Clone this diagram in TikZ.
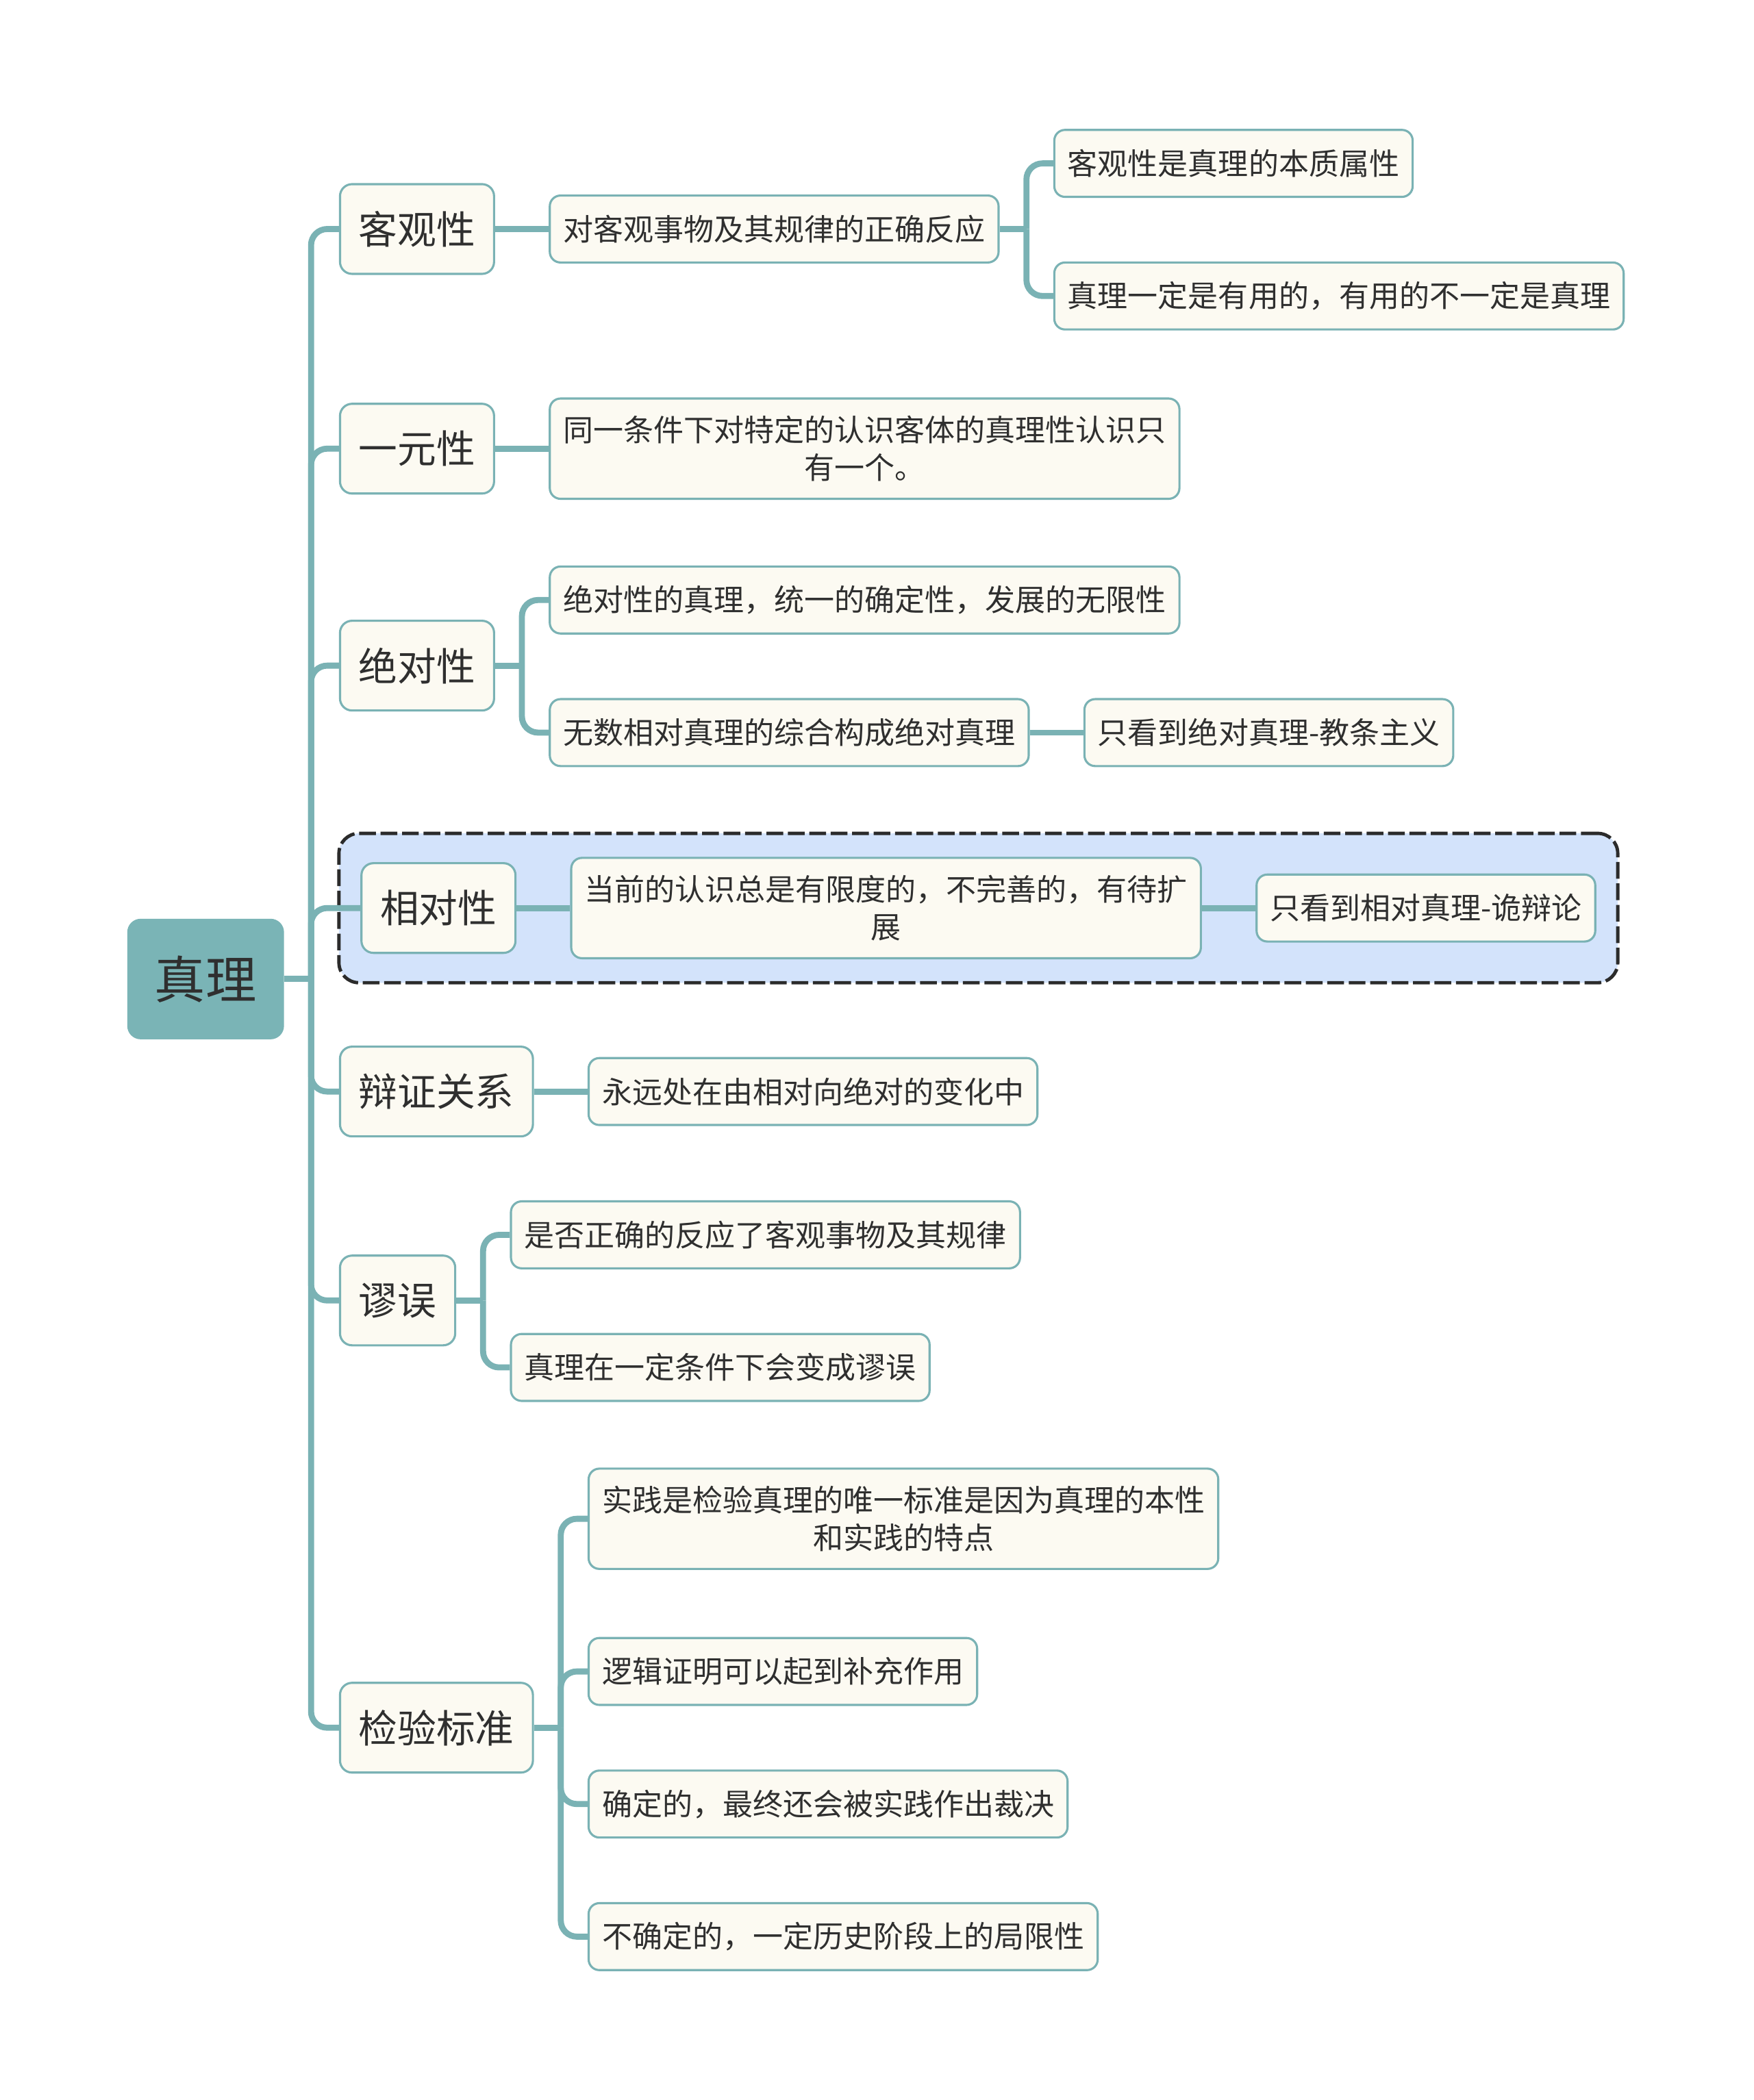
\documentclass[tikz,border=0pt]{standalone}
\usepackage{fontspec}
\setmainfont{Noto Sans CJK SC}
\usetikzlibrary{positioning,fit,backgrounds}

\definecolor{branch}{HTML}{7AB2B4}
\definecolor{boxfill}{HTML}{FCFAF2}
\definecolor{rootfill}{HTML}{7AB4B6}
\definecolor{framefill}{HTML}{D3E3FB}
\definecolor{frameline}{HTML}{2B2B2B}
\definecolor{ink}{HTML}{2F2F2F}

\begin{document}
\begin{tikzpicture}[
    x=1pt, y=-1pt,
    node distance=40pt,
    root/.style={rectangle, fill=rootfill, rounded corners=10pt, minimum width=117pt, minimum height=90pt, text=ink, font=\fontsize{38}{45}\selectfont},
    topic/.style={rectangle, draw=branch, line width=1.6pt, fill=boxfill, rounded corners=9pt, minimum height=67pt, inner xsep=14pt, text=ink, font=\fontsize{29}{35}\selectfont},
    sub/.style={rectangle, draw=branch, line width=1.6pt, fill=boxfill, rounded corners=8pt, minimum height=50pt, inner xsep=10pt, inner ysep=13pt, align=center, text=ink, font=\fontsize{22.5}{28}\selectfont},
    conn/.style={draw=branch, line width=4.5pt, rounded corners=12pt},
    frame/.style={rectangle, draw=frameline, line width=2.5pt, dash pattern=on 12.5pt off 3.5pt, fill=framefill, rounded corners=15pt, inner sep=16pt}
]
\useasboundingbox (0,0) rectangle (1309,1568);

% Root
\node[root] (truth) at (153.5,731) {真理};

% Main topics
\node[topic, anchor=west] (kg) at (253,171) {客观性};
\node[topic, anchor=west] (yy) at (253,335) {一元性};
\node[topic, anchor=west] (jd) at (253,497) {绝对性};
\node[topic, anchor=west] (xd) at (269,678) {相对性};
\node[topic, anchor=west] (bz) at (253,815) {辩证关系};
\node[topic, anchor=west] (mw) at (253,971) {谬误};
\node[topic, anchor=west] (jy) at (253,1290) {检验标准};

% Subtopics
\node[sub, right=of kg] (kg1) {对客观事物及其规律的正确反应};
\node[sub, right=of kg1, yshift=49pt] (kg11) {客观性是真理的本质属性};
\node[sub, right=of kg1, yshift=-50pt] (kg12) {真理一定是有用的，有用的不一定是真理};

\node[sub, right=of yy] (yy1) {同一条件下对特定的认识客体的真理性认识只\\有一个。};

\node[sub, right=of jd, yshift=49pt] (jd1) {绝对性的真理，统一的确定性，发展的无限性};
\node[sub, right=of jd, yshift=-50pt] (jd2) {无数相对真理的综合构成绝对真理};
\node[sub, right=of jd2] (jd21) {只看到绝对真理-教条主义};

\node[sub, right=of xd] (xd1) {当前的认识总是有限度的，不完善的，有待扩\\展};
\node[sub, right=of xd1] (xd11) {只看到相对真理-诡辩论};

\node[sub, right=of bz] (bz1) {永远处在由相对向绝对的变化中};

\node[sub, right=of mw, yshift=49pt] (mw1) {是否正确的反应了客观事物及其规律};
\node[sub, right=of mw, yshift=-50pt] (mw2) {真理在一定条件下会变成谬误};

\node[sub, right=of jy, yshift=156pt] (jy1) {实践是检验真理的唯一标准是因为真理的本性\\和实践的特点};
\node[sub, right=of jy, yshift=42pt] (jy2) {逻辑证明可以起到补充作用};
\node[sub, right=of jy, yshift=-57pt] (jy3) {确定的，最终还会被实践作出裁决};
\node[sub, right=of jy, yshift=-156pt] (jy4) {不确定的，一定历史阶段上的局限性};

% Highlight frame
\begin{scope}[on background layer]
\node[frame, fit=(xd)(xd1)(xd11), inner ysep=17.5pt] (relframe) {};
\end{scope}

% Connectors
\coordinate[right=20pt of truth] (j0);
\draw[conn] (truth) -- (j0);
\foreach \t in {kg,yy,jd,xd,bz,mw,jy}
    \draw[conn] (j0) |- (\t.west);

\draw[conn] (kg) -- (kg1);
\coordinate[right=20pt of kg1] (jkg1);
\draw[conn] (kg1) -- (jkg1);
\foreach \c in {kg11,kg12}
    \draw[conn] (jkg1) |- (\c.west);

\draw[conn] (yy) -- (yy1);

\coordinate[right=20pt of jd] (jjd);
\draw[conn] (jd) -- (jjd);
\foreach \c in {jd1,jd2}
    \draw[conn] (jjd) |- (\c.west);
\draw[conn] (jd2) -- (jd21);

\draw[conn] (xd) -- (xd1);
\draw[conn] (xd1) -- (xd11);

\draw[conn] (bz) -- (bz1);

\coordinate[right=20pt of mw] (jmw);
\draw[conn] (mw) -- (jmw);
\foreach \c in {mw1,mw2}
    \draw[conn] (jmw) |- (\c.west);

\coordinate[right=20pt of jy] (jjy);
\draw[conn] (jy) -- (jjy);
\foreach \c in {jy1,jy2,jy3,jy4}
    \draw[conn] (jjy) |- (\c.west);

\end{tikzpicture}
\end{document}
